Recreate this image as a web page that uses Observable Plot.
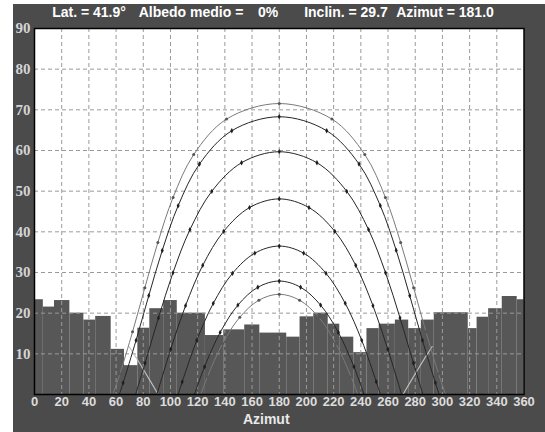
<!DOCTYPE html>
<html><head><meta charset="utf-8">
<script src="https://cdn.jsdelivr.net/npm/d3@7"></script>
<script src="https://cdn.jsdelivr.net/npm/@observablehq/plot@0.6"></script>
<style>
html,body{margin:0;padding:0;background:#fff;}
#wrap{position:relative;width:545px;height:432px;overflow:hidden;background:#fff;}
#panel{position:absolute;left:13px;top:4px;width:532px;height:428px;background:#4b4b4b;}
#title span{position:absolute;top:4px;transform:translateX(-50%);font:bold 14px "Liberation Sans",Arial,sans-serif;color:#fff;white-space:pre;}
#chart{position:absolute;left:0;top:0;}
</style></head><body>
<div id="wrap"><div id="panel"></div><div id="title"></div><div id="chart"></div></div>
<script>
// ---- data ----
const titleParts = ["Lat. = 41.9°", "Albedo medio =", "0%", "Inclin. = 29.7", "Azimut = 181.0"];
const xTicks = [0,20,40,60,80,100,120,140,160,180,200,220,240,260,280,300,320,340,360];
const yTicks = [10,20,30,40,50,60,70,80,90];
const xLabel = "Azimut";

// horizon profile (step edges in azimuth, heights in degrees)
const horizonEdges = [0,6.5,14.7,26,36.3,45,56.4,66.2,76,84.8,95,105,125.7,139.2,154.6,165.7,185.5,195.3,205.4,216,224.5,234.8,244.5,253.5,265.4,275.2,284.5,294,319,325.5,334,344,355,360];
const horizonHeights = [23.3,21.5,23.1,20.0,18.3,19.2,11.1,7.1,16.3,21.1,23.1,20.0,14.5,15.9,17.1,15.1,14.1,19.1,20.0,17.3,14.1,10.3,16.2,17.3,18.3,16.2,18.3,20.1,16.2,19.0,21.1,24.1,23.3];

// sun paths (azimuth, altitude) – hourly points plus sunrise/sunset
const pathNames = ["Giu","Mag/Lug","Apr/Ago","Mar/Set","Feb/Ott","Gen/Nov","Dic"];
const pathAz = [
  [57.68,62.83,72.11,81.17,90.73,101.93,117.07,141.23,180,218.77,242.93,258.07,269.27,278.83,287.89,297.17,302.32],
  [62.36,65.18,74.69,84.03,93.97,105.67,121.34,145.11,180,214.89,238.66,254.33,266.03,275.97,285.31,294.82,297.64],
  [74.33,81.31,91.19,101.81,114.31,130.40,152.27,180,207.73,229.60,245.69,258.19,268.81,278.69,285.67],
  [90,100.15,111.09,123.73,139.16,158.14,180,201.86,220.84,236.27,248.91,259.85,270],
  [105.67,108.63,119.34,131.47,145.63,162.03,180,197.97,214.37,228.53,240.66,251.37,254.33],
  [117.64,125.06,136.54,149.60,164.27,180,195.73,210.40,223.46,234.94,242.36],
  [122.32,127.17,138.36,150.98,165.03,180,194.97,209.02,221.64,232.83,237.68]
];
const pathAlt = [
  [0,5.11,15.41,26.26,37.39,48.47,58.99,67.72,71.55,67.72,58.99,48.47,37.39,26.26,15.41,5.11,0],
  [0,2.86,13.33,24.29,35.44,46.43,56.68,64.86,68.30,64.86,56.68,46.43,35.44,24.29,13.33,2.86,0],
  [0,7.72,18.84,29.92,40.53,49.97,56.99,59.70,56.99,49.97,40.53,29.92,18.84,7.72,0],
  [0,11.11,21.85,31.76,40.13,45.97,48.10,45.97,40.13,31.76,21.85,11.11,0],
  [0,3.12,13.31,22.41,29.81,34.75,36.50,34.75,29.81,22.41,13.31,3.12,0],
  [0,6.82,15.27,21.98,26.37,27.90,26.37,21.98,15.27,6.82,0],
  [0,4.34,12.54,19.00,23.19,24.65,23.19,19.00,12.54,4.34,0]
];
const grayPaths = ["Giu","Dic"];

// panel plane trace (where the sun passes behind the module plane)
const planeNames = ["mattina","sera"];
const planeAz = [[69.5,75,80,85,91],[271,277,282,287,292.5]];
const planeAlt = [[11.8,8.94,6.21,3.41,0],[0,3.41,6.21,8.94,11.8]];

// ---- build tables ----
const horizon = horizonHeights.map((h,i)=>({x1:horizonEdges[i], x2:horizonEdges[i+1], h}));
const sunRows = [];
pathNames.forEach((n,i)=>pathAz[i].forEach((a,j)=>sunRows.push({curve:n, az:a, alt:pathAlt[i][j], gray:grayPaths.includes(n), marker: j>0 && j<pathAz[i].length-1})));
const planeRows = [];
planeNames.forEach((n,i)=>planeAz[i].forEach((a,j)=>planeRows.push({curve:n, az:a, alt:planeAlt[i][j]})));

const chart = Plot.plot({
  width: 545, height: 432,
  marginLeft: 34, marginRight: 21.5, marginTop: 28, marginBottom: 38,
  style: {background: "transparent", overflow: "visible"},
  x: {domain: [0,360], axis: null},
  y: {domain: [0,90], axis: null},
  marks: [
    Plot.frame({fill:"#ffffff", stroke:"none"}),
    Plot.rectY(horizon, {x1:"x1", x2:"x2", y:"h", fill:"#575757"}),
    Plot.ruleX(xTicks.slice(1,-1), {x: d=>d, stroke:"#9a9a9a", strokeDasharray:"4,3"}),
    Plot.ruleY(yTicks.slice(0,-1), {y: d=>d, stroke:"#9a9a9a", strokeDasharray:"4,3"}),
    Plot.line(planeRows, {x:"az", y:"alt", z:"curve", stroke:"#c0c0c0", strokeWidth:1.1}),
    Plot.line(sunRows.filter(d=>!d.gray), {x:"az", y:"alt", z:"curve", stroke:"#262626", strokeWidth:1, curve:"catmull-rom"}),
    Plot.line(sunRows.filter(d=>d.gray), {x:"az", y:"alt", z:"curve", stroke:"#7a7a7a", strokeWidth:1, curve:"catmull-rom"}),
    Plot.dot(sunRows.filter(d=>d.marker && !d.gray), {x:"az", y:"alt", r:1.6, symbol:"diamond", fill:"#1e1e1e"}),
    Plot.dot(sunRows.filter(d=>d.marker && d.gray), {x:"az", y:"alt", r:1.5, fill:"#555555"}),
    Plot.frame({stroke:"#000", strokeWidth:1.5}),
    Plot.text(xTicks, {x:d=>d, text:d=>String(d), frameAnchor:"bottom", dy:11, fill:"#dcdcdc", fontFamily:"Liberation Sans", fontWeight:"bold", fontSize:13}),
    Plot.text(yTicks, {y:d=>d, text:d=>String(d), frameAnchor:"left", dx:-4, textAnchor:"end", fill:"#d4d4d4", fontFamily:"Liberation Serif", fontWeight:"bold", fontSize:15}),
    Plot.text([xLabel], {text:d=>d, frameAnchor:"bottom", dy:29, dx:-13, fill:"#e8e8e8", fontFamily:"Liberation Sans", fontWeight:"bold", fontSize:14})
  ]
});
document.getElementById("chart").appendChild(chart);

const titleCenters = [89, 191, 268, 346, 445];
const t = document.getElementById("title");
titleParts.forEach((s,i)=>{const sp=document.createElement("span"); sp.textContent=s; sp.style.left=titleCenters[i]+"px"; t.appendChild(sp);});
</script>
</body></html>
